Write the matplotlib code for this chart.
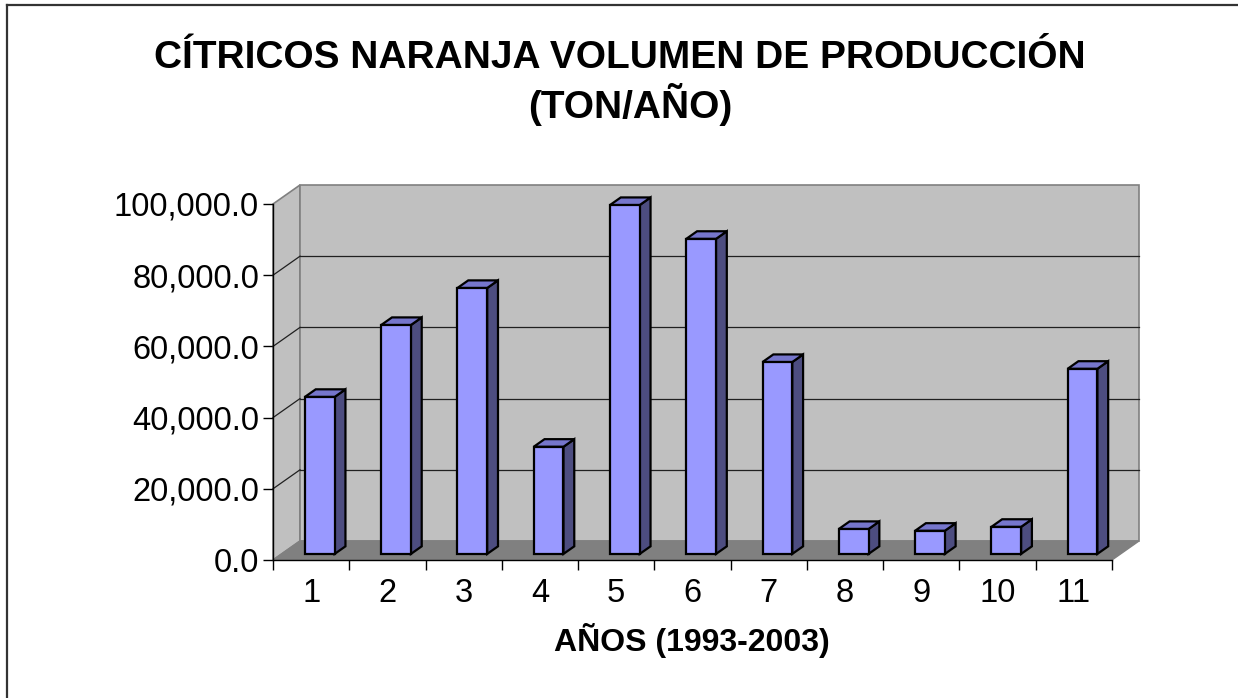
import matplotlib
matplotlib.use("Agg")
import matplotlib.pyplot as plt
from matplotlib.patches import Polygon
from matplotlib.lines import Line2D
from matplotlib.ticker import FuncFormatter

plt.rcParams['font.family'] = ['Liberation Sans', 'DejaVu Sans']

# data
years = ['1', '2', '3', '4', '5', '6', '7', '8', '9', '10', '11']
produccion = [44100, 64300, 74700, 30100, 98000, 88500, 53900, 7000, 6500, 7600, 52000]
y_ticks = [0, 20000, 40000, 60000, 80000, 100000]

title_1 = "CÍTRICOS NARANJA VOLUMEN DE PRODUCCIÓN"
title_2 = "(TON/AÑO)"
x_label = "AÑOS (1993-2003)"

# colours of the excel-like 3d look
c_front = '#9999FF'
c_top = '#7676CC'
c_side = '#4D4D80'
c_wall = '#C0C0C0'
c_floor = '#808080'

W, H = 1238, 698
fig = plt.figure(figsize=(W / 100, H / 100), dpi=100)

# front plane of the plot, in pixels
px_l, px_r, px_top, px_bot = 273, 1112, 204, 560
ax = fig.add_axes([px_l / W, 1 - px_bot / H, (px_r - px_l) / W, (px_bot - px_top) / H])

n = len(years)
x0, x1 = 0.5, n + 0.5
ymax = 100000
ax.set_xlim(x0, x1)
ax.set_ylim(0, ymax)
ax.set_facecolor('none')

# depth of the box, converted from pixels into data units
DX = 27 / ((px_r - px_l) / n)
DY = 19 / ((px_bot - px_top) / ymax)

def add(pts, fc, ec, lw, z):
    ax.add_patch(Polygon(pts, closed=True, facecolor=fc, edgecolor=ec,
                         linewidth=lw, clip_on=False, zorder=z))

# walls and floor
add([(x0, 0), (x0, ymax), (x0 + DX, ymax + DY), (x0 + DX, DY)], c_wall, c_floor, 1.2, 1)
add([(x0 + DX, DY), (x0 + DX, ymax + DY), (x1 + DX, ymax + DY), (x1 + DX, DY)], c_wall, c_floor, 1.2, 1)
add([(x0, 0), (x1, 0), (x1 + DX, DY), (x0 + DX, DY)], c_floor, c_floor, 1.0, 2)

# gridlines on back wall and side wall
for v in y_ticks[1:-1]:
    ax.plot([x0 + DX, x1 + DX], [v + DY, v + DY], color='#202020', lw=0.9, clip_on=False, zorder=3)
    ax.plot([x0, x0 + DX], [v, v + DY], color='#202020', lw=0.9, clip_on=False, zorder=3)

# bars
a, b = 0.32, 0.72
w = 0.39
for i, v in enumerate(produccion):
    c = i + 1
    l, r = c - w / 2, c + w / 2
    ya, yb = a * DY, b * DY
    xa, xb = a * DX, b * DX
    add([(r + xa, ya), (r + xb, yb), (r + xb, yb + v), (r + xa, ya + v)], c_side, 'black', 1.6, 5)
    add([(l + xa, ya + v), (r + xa, ya + v), (r + xb, yb + v), (l + xb, yb + v)], c_top, 'black', 1.6, 5)
    add([(l + xa, ya), (r + xa, ya), (r + xa, ya + v), (l + xa, ya + v)], c_front, 'black', 1.6, 6)

# axes
for s in ['top', 'right']:
    ax.spines[s].set_visible(False)
for s in ['left', 'bottom']:
    ax.spines[s].set_color('black')
    ax.spines[s].set_linewidth(1.0)
    ax.spines[s].set_zorder(7)

ax.set_yticks(y_ticks)
ax.yaxis.set_major_formatter(FuncFormatter(lambda v, p: f"{v:,.1f}"))
ax.tick_params(axis='y', direction='out', length=7, width=1, pad=3, labelsize=23.5)

ax.set_xticks([k + 0.5 for k in range(n + 1)])
ax.set_xticklabels([])
ax.set_xticks(range(1, n + 1), minor=True)
ax.set_xticklabels(years, minor=True)
ax.tick_params(axis='x', which='major', direction='out', length=7, width=1)
ax.tick_params(axis='x', which='minor', length=0, pad=13, labelsize=23.5)

# texts
fig.text(620 / W, 1 - 58 / H, title_1, ha='center', va='center', fontsize=28, fontweight='bold')
fig.text(630 / W, 1 - 105 / H, title_2, ha='center', va='center', fontsize=28, fontweight='bold')
fig.text(692 / W, 1 - 640 / H, x_label, ha='center', va='center', fontsize=23, fontweight='bold')

# chart border
fig.add_artist(Line2D([7 / W, 7 / W], [0, 1 - 5 / H], transform=fig.transFigure, color='#333333', lw=1.6))
fig.add_artist(Line2D([7 / W, 1], [1 - 5 / H, 1 - 5 / H], transform=fig.transFigure, color='#333333', lw=1.6))

fig.savefig("out.png", dpi=100)
